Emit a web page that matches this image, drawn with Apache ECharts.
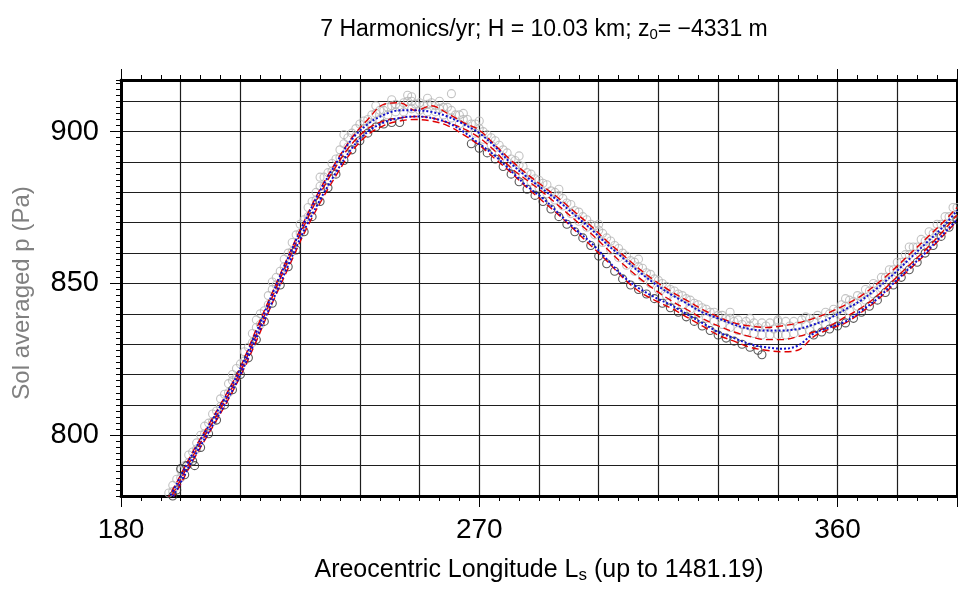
<!DOCTYPE html>
<html>
<head>
<meta charset="utf-8">
<script src="https://cdn.jsdelivr.net/npm/echarts@6/dist/echarts.min.js"></script>
<style>html,body{margin:0;padding:0;background:#fff}#c{width:958px;height:589px}</style>
</head>
<body>
<div id="c"></div>
<script>
// ---- Data (Ls in degrees, pressure in Pa) ----
const LS_EVEN = [190,192,194,196,198,200,202,204,206,208,210,212,214,216,218,220,222,224,226,228,230,232,234,236,238,240,242,244,246,248,250,252,254,256,258,260,262,264,266,268,270,272,274,276,278,280,282,284,286,288,290,292,294,296,298,300,302,304,306,308,310,312,314,316,318,320,322,324,326,328,330,332,334,336,338,340,342,344,346,348,350,352,354,356,358,360,362,364,366,368,370,372,374,376,378,380,382,384,386,388,390];
const LS_ODD = [191,193,195,197,199,201,203,205,207,209,211,213,215,217,219,221,223,225,227,229,231,233,235,237,239,241,243,245,247,249,251,253,255,257,259,261,263,265,267,269,271,273,275,277,279,281,283,285,287,289,291,293,295,297,299,301,303,305,307,309,311,313,315,317,319,321,323,325,327,329,331,333,335,337,339,341,343,345,347,349,351,353,355,357,359,361,363,365,367,369,371,373,375,377,379,381,383,385,387,389];
const LS_LINE = [190,194,198,202,206,210,214,218,222,226,230,234,238,242,246,250,254,258,262,266,270,274,278,282,286,290,294,298,302,306,310,314,318,322,326,330,334,338,342,346,350,354,358,362,366,370,374,378,382,386,390];

// light grey circles (other years), upper part of the band
const P_GREY_A = [776,781,785.5,790,794.5,800,804,808,813.5,818,823.5,829,835.5,841,848,854,860,866,871,877,882,886.5,891,896,899.5,902.5,904,906,907,908.5,908,910,909,908.5,909.5,907.5,908,905.5,904,902.5,901,899,897,894,891,889,886.5,884.5,883,880.5,879,876.5,874,872,869.5,867.5,865,862.5,860,857.5,855.5,853.5,851.5,850,848,846.5,845,843.5,842,840.5,839.5,838.5,837.5,836.5,836,835.5,836,835,835.5,836,836,836.5,837.5,838.5,840,841,842.5,844,845.5,847.5,849.5,852,854.5,857,859.5,862,864,866.5,869.5,872,875];
// light grey circles, middle of the band
const P_GREY_B = [776.5,781.5,786,791,795.5,800.5,804.5,809.5,814,819,824.5,830.5,836.5,843,849.5,855.5,860.5,866.5,872,877.5,882,887,891.5,895,898.5,901,902.5,904,905.5,906.5,906.5,907.5,907,906.5,906.5,905.5,904.5,902.5,901,899.5,897.5,895.5,892.5,890,887.5,885.5,883.5,881.5,879.5,877.5,875.5,873,870.5,868.5,866,863.5,861,858.5,856,854,852,850,848,846,844.5,843,841.5,840,838.5,837.5,836.5,835.5,834.5,834,833.5,833,833,833,833,833.5,834,834.5,835.5,836.5,838,839.5,841,842.5,844.5,846.5,848.5,851,853.5,856,858.5,861,863.5,866,869,872];
// light grey circles, top edge of the band
const P_GREY_C = [778,783.5,788.5,793.5,797.5,803,807,812,817,822,827.5,833.5,840,846,852,858,863.5,869.5,875,880,885,889.5,894,898,901,903.5,905.5,907,908,909,909.5,910,909.5,909,908.5,908,907,905.5,904,902.5,900,898,895.5,893,890.5,888.5,886,884,882.5,880,878,876,873.5,871,869,866.5,864,861.5,859,857,855,853,851,849,847.5,846,844.5,843,841.5,840.5,839.5,838.5,838,837.5,837,837,837,837.5,837.5,837.5,838,838.5,839.5,840.5,841.5,843,844.5,846,848,850,852,854.5,857,859.5,862,864.5,867,869.5,872,875];
// light grey scattered outliers [Ls, p]
const GREY_OUT = [[208,820],[214,838],[218,850.5],[230,885],[236,899],[244,908.5],[248,910.5],[252,912],[253,911.5],[257,911],[260,910],[263,912.5],[266,906],[270,903.5],[280,892],[290,881],[300,869.5],[310,858],[333,840.5],[338,838.5],[345,838],[352,839],[362,845],[378,862]];
// dark circles (current year) [Ls, p]
const DARK = [[191.5,779],[193,780],[194,782],[195,789],[196,787],[196.5,790],[198,791.5],[198.5,790],[200,796],[202,800.5],[204,805],[206,810],[208,815],[210,820],[212,825.5],[214,831.5],[216,837.5],[218,843.5],[220,849.5],[222,855.5],[224,861],[226,867],[228,872],[230,877],[232,881.5],[234,886],[236,890.5],[238,894],[240,897],[242,899.5],[244,901.5],[246,902.5],[248,903],[250,903],[268,896],[270,894.5],[272,893],[274,891],[276,888.5],[278,886],[280,883.5],[282,881],[284,879],[286,877],[288,874.5],[290,872],[292,869.5],[294,867],[296,865],[298,862.5],[300,859],[302,856.5],[304,854],[306,851.5],[308,849.5],[310,848],[312,846.5],[314,845],[316,843.5],[318,842],[320,840.5],[322,839],[324,837.5],[326,836],[328,834.5],[330,833],[332,832],[334,831],[336,830],[338,829],[340,828],[341,826.5],[354,833],[356,834],[358,835],[360,836],[362,837],[364,838.5],[366,840.5],[368,842.5],[370,844.5],[372,847],[374,849.5],[376,852],[378,854.5],[380,857],[382,860],[384,862.5],[386,865.5],[388,868.5],[390,871]];

// harmonic fits (red dashed) and smoothed curves (blue dotted), on LS_LINE
const P_RED_1 = [774,783,793,802,811,821,833,845.5,857.5,869,879.5,888.5,896,901,903.5,904.5,905,904.5,903,901,898,893.5,888,884,880,875.5,871,866.5,861.5,856.5,852,848,844.5,841.5,838.5,836,834,832.5,831.5,831.5,832.5,834,836,839,842,846,851,856,861,866.5,872.5];
const P_RED_2 = [775,784.5,794.5,803.5,812.5,822.5,835,847,859,870.5,881,890,898,904,909,909.5,907,908.5,906,903,900.5,895.5,890.5,886,882,878,873.5,869,864,859.5,855,851,847.5,844.5,841.5,839,837,836,835.5,836,837,838.5,840.5,843,846,850,854.5,859.5,864.5,869.5,875];
const P_RED_3 = [772.5,781.5,791.5,800.5,809.5,819.5,831,843.5,855,866.5,876.5,885.5,893.5,899,902,903.5,904,903.5,902,899,895.5,891,886.5,881.5,877,872.5,867.5,862.5,857.5,852,847.5,844.5,842,839,836,833,831,829,828,827.5,828,832.5,835,837,840.5,844.5,849.5,854.5,859.5,865,870.5];
const P_BLUE_1 = [774.5,784,794,803,812,822,834,846.5,858.5,870,880.5,889.5,897.5,902.5,905.5,907,907,906.5,905,902.5,899.5,895,889.5,885,881,877,872.5,868,863,858.5,854,850,846.5,843.5,840.5,838.5,836.5,835,834.5,834.5,835,836.5,838.5,841.5,844.5,848.5,853,858,863,868,874];
const P_BLUE_2 = [773,782,792,801,810,820,832,844,856,867.5,877.5,886.5,894.5,900,903,904.5,905,904.5,903,900,896,892,887,882,878,873,868,863.5,858,852.5,848.5,845.5,843,840,837,834,832,830,829,828.5,829.5,833.5,835.5,837.5,841,845,850,855,860,865.5,871];

const X_TICKS = [180, 270, 360];
const Y_TICKS = [800, 850, 900];

// ---- Chart ----
const F = 'Liberation Sans, Arial, Helvetica, sans-serif';
const zip = (xs, ys) => xs.map((x, i) => [x, ys[i]]);
const chart = echarts.init(document.getElementById('c'), null, {renderer: 'canvas'});

const circle = (name, data, color, size, z) => ({
  name, type: 'scatter', data, symbol: 'circle', symbolSize: size, silent: true, z,
  itemStyle: {color: 'rgba(0,0,0,0)', borderColor: color, borderWidth: 1.1}
});
const curve = (name, ys, color, dash, width, z) => ({
  name, type: 'line', data: zip(LS_LINE, ys), showSymbol: false, smooth: 0.35, silent: true, z,
  lineStyle: {color, type: dash, width}
});

const xCommon = {type: 'value', min: 180, max: 390, interval: 90};
const yCommon = {type: 'value', min: 780, max: 917};
const GRID_LINE = {show: true, lineStyle: {color: '#1e1e1e', width: 1.2}};

chart.setOption({
  animation: false,
  backgroundColor: '#fff',
  title: {
    text: '7 Harmonics/yr; H = 10.03 km; z{sub|0}= \u22124331 m',
    left: 539, top: 12, textAlign: 'center',
    textStyle: {fontFamily: F, fontSize: 23, fontWeight: 'normal', color: '#000',
      rich: {sub: {fontFamily: F, fontSize: 15, color: '#000', padding: [10, 0, 0, 0]}}}
  },
  grid: {left: 121, right: 1, top: 80, bottom: 91, containLabel: false},
  xAxis: [
    Object.assign({}, xCommon, {
      position: 'bottom',
      axisLine: {show: true, onZero: false, lineStyle: {color: '#000', width: 3}},
      axisTick: {show: true, inside: false, length: 11, lineStyle: {color: '#000', width: 1}},
      minorTick: {show: true, splitNumber: 18, length: 5, lineStyle: {color: '#000', width: 1}},
      axisLabel: {show: true, margin: 20, fontSize: 28, fontFamily: F, color: '#000',
        customValues: X_TICKS},
      splitLine: {show: false},
      name: 'Areocentric Longitude L{sub|s} (up to 1481.19)',
      nameLocation: 'middle', nameGap: 60,
      nameTextStyle: {fontFamily: F, fontSize: 25, color: '#000',
        rich: {sub: {fontFamily: F, fontSize: 17, color: '#000', padding: [11, 0, 0, 0]}}}
    }),
    Object.assign({}, xCommon, {
      position: 'top',
      axisLine: {show: true, onZero: false, lineStyle: {color: '#000', width: 3}},
      axisTick: {show: true, inside: false, length: 11, lineStyle: {color: '#000', width: 1}},
      minorTick: {show: true, splitNumber: 18, length: 5, lineStyle: {color: '#000', width: 1}},
      axisLabel: {show: false}, splitLine: {show: false}
    }),
    Object.assign({}, xCommon, {
      position: 'bottom', interval: 15,
      axisLine: {show: false}, axisTick: {show: false}, axisLabel: {show: false},
      splitLine: GRID_LINE
    })
  ],
  yAxis: [
    Object.assign({}, yCommon, {
      position: 'left',
      axisLine: {show: true, onZero: false, lineStyle: {color: '#000', width: 3}},
      axisTick: {show: true, inside: false, length: 11, customValues: Y_TICKS, lineStyle: {color: '#000', width: 1}},
      axisLabel: {show: true, margin: 22, fontSize: 29, fontFamily: F, color: '#000', customValues: Y_TICKS},
      splitLine: {show: false},
      name: 'Sol averaged p (Pa)', nameLocation: 'middle', nameGap: 87, nameRotate: 90,
      nameTextStyle: {fontFamily: F, fontSize: 24, color: '#808080', padding: [0, 10, 0, 0]}
    }),
    Object.assign({}, yCommon, {
      position: 'left', interval: 2,
      axisLine: {show: false},
      axisTick: {show: true, inside: false, length: 5, lineStyle: {color: '#000', width: 1}},
      axisLabel: {show: false}, splitLine: {show: false}
    }),
    Object.assign({}, yCommon, {
      position: 'left', interval: 10,
      axisLine: {show: false}, axisTick: {show: false}, axisLabel: {show: false},
      splitLine: GRID_LINE
    }),
    Object.assign({}, yCommon, {
      position: 'right',
      axisLine: {show: true, onZero: false, lineStyle: {color: '#000', width: 3}},
      axisTick: {show: false}, axisLabel: {show: false}, splitLine: {show: false}
    })
  ],
  series: [
    circle('grey A', zip(LS_EVEN, P_GREY_A), '#b4b4b4', 8, 2),
    circle('grey B', zip(LS_ODD, P_GREY_B), '#b4b4b4', 8, 2),
    circle('grey C', zip(LS_ODD, P_GREY_C), '#b4b4b4', 8, 2),
    circle('grey outliers', GREY_OUT, '#b4b4b4', 8, 2),
    circle('current year', DARK, '#303030', 8, 3),
    curve('fit 1', P_RED_1, '#e00000', [7, 4], 1.4, 4),
    curve('fit 2', P_RED_2, '#e00000', [7, 4], 1.4, 4),
    curve('fit 3', P_RED_3, '#e00000', [7, 4], 1.4, 4),
    curve('smooth 1', P_BLUE_1, '#1010cc', [2, 2], 2, 5),
    curve('smooth 2', P_BLUE_2, '#1010cc', [2, 2], 2, 5)
  ]
});
</script>
</body>
</html>
